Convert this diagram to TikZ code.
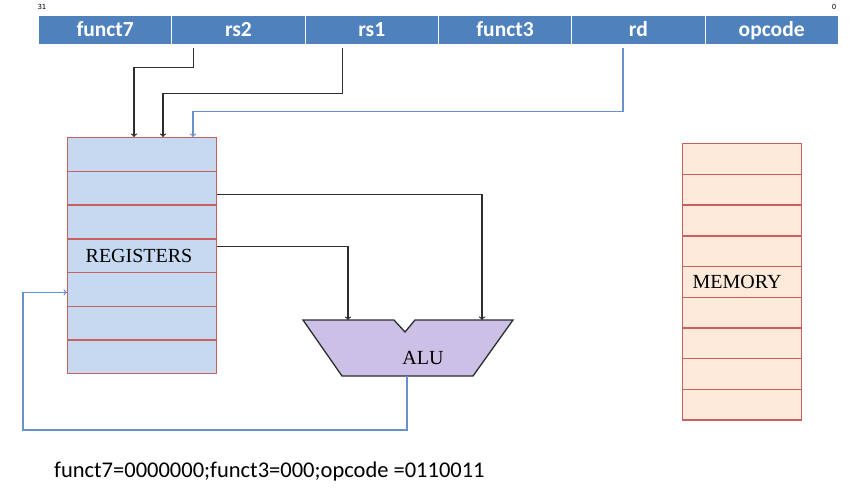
\documentclass[tikz,border=0pt]{standalone}
\usepackage{fontspec}
\setmainfont{Liberation Serif}
\setsansfont{Carlito}
\newfontfamily\bitfont{DejaVu Sans}
\usetikzlibrary{positioning}
\definecolor{mybarblue}{RGB}{79,129,189}
\definecolor{myregblue}{RGB}{198,217,240}
\definecolor{mymempeach}{RGB}{253,234,218}
\definecolor{mycellred}{RGB}{200,96,96}
\definecolor{myalupurple}{RGB}{204,192,230}
\definecolor{mywireblue}{RGB}{105,145,205}
\definecolor{mywiregray}{RGB}{45,45,45}
\newcommand{\widthfield}{133.3pt}
\newcommand{\heightreg}{33.7pt}
\newcommand{\heightmem}{30.7pt}
\tikzset{
    field/.style={anchor=west, draw=white, line width=1pt, fill=mybarblue, text=white, minimum width=\widthfield, minimum height=29pt, inner sep=0pt, text height=13pt, text depth=0pt, font=\sffamily\bfseries\fontsize{21.5}{21.5}\selectfont},
    cell/.style={anchor=north west, draw=mycellred, line width=1.4pt, inner sep=0pt},
    regcell/.style={cell, fill=myregblue, minimum width=149pt, minimum height=\heightreg},
    memcell/.style={cell, fill=mymempeach, minimum width=119pt, minimum height=\heightmem},
    title/.style={font=\fontsize{20}{20}\selectfont},
    wire/.style={->, mywiregray, line width=1.3pt},
    bluewire/.style={->, mywireblue, line width=1.3pt}
}
\begin{document}
\begin{tikzpicture}[x=1pt, y=-1pt]
    \useasboundingbox (0,0) rectangle (850,497);

    % instruction fields
    \path (38,30.5)
        node[field] (funct7) {funct7}
        ++(\widthfield,0) node[field] (rs2) {rs2}
        ++(\widthfield,0) node[field] (rs1) {rs1}
        ++(\widthfield,0) node[field] (funct3) {funct3}
        ++(\widthfield,0) node[field] (rd) {rd}
        ++(\widthfield,0) node[field] (opcode) {opcode};
    \node[font=\bitfont\fontsize{7}{7}\selectfont, inner sep=0pt] (msb) at (42,7) {31};
    \node[font=\bitfont\fontsize{7}{7}\selectfont, inner sep=0pt] (lsb) at (834,7) {0};

    % register file and memory
    \foreach \i in {0,...,6}
        \node[regcell] (reg\i) at (67,{137+\i*33.7}) {};
    \node[title] (regname) at (139,256) {REGISTERS};
    \foreach \i in {0,...,8}
        \node[memcell] (mem\i) at (682,{143+\i*30.7}) {};
    \node[title] (memname) at (737,282) {MEMORY};

    % ALU
    \draw[mywiregray, line width=1.3pt, fill=myalupurple]
        (303,320) -- (394,320) -- (405,332) -- (415,320) -- (513,320)
        -- (473,376) -- (342,376) -- cycle;
    \coordinate (alua) at (348,320);
    \coordinate (alub) at (482,320);
    \coordinate (aluout) at (407,376);
    \node[title] (alu) at (423,358) {ALU};

    % connectors
    \draw[wire] ([xshift=-45pt, yshift=-3pt]rs2.south) -- ++(0,19) -| ([xshift=67pt]reg0.north west);
    \draw[wire] ([xshift=-29.5pt, yshift=-3pt]rs1.south) -- ++(0,45) -| ([xshift=96pt]reg0.north west);
    \draw[bluewire] ([xshift=-15.5pt, yshift=-3pt]rd.south) -- ++(0,63) -| ([xshift=126pt]reg0.north west);
    \draw[wire] ([yshift=-6.5pt]reg1.east) -| (alub);
    \draw[wire] ([yshift=9pt]reg3.east) -| (alua);
    \draw[bluewire] (aluout) -- ++(0,54) -| ([xshift=-44pt, yshift=-3pt]reg4.west) -- ([yshift=-3pt]reg4.west);

    \node[font=\sffamily\fontsize{22.5}{22.5}\selectfont, anchor=west, inner sep=0pt] (codes) at (54,471) {funct7=0000000;funct3=000;opcode =0110011};
\end{tikzpicture}
\end{document}
